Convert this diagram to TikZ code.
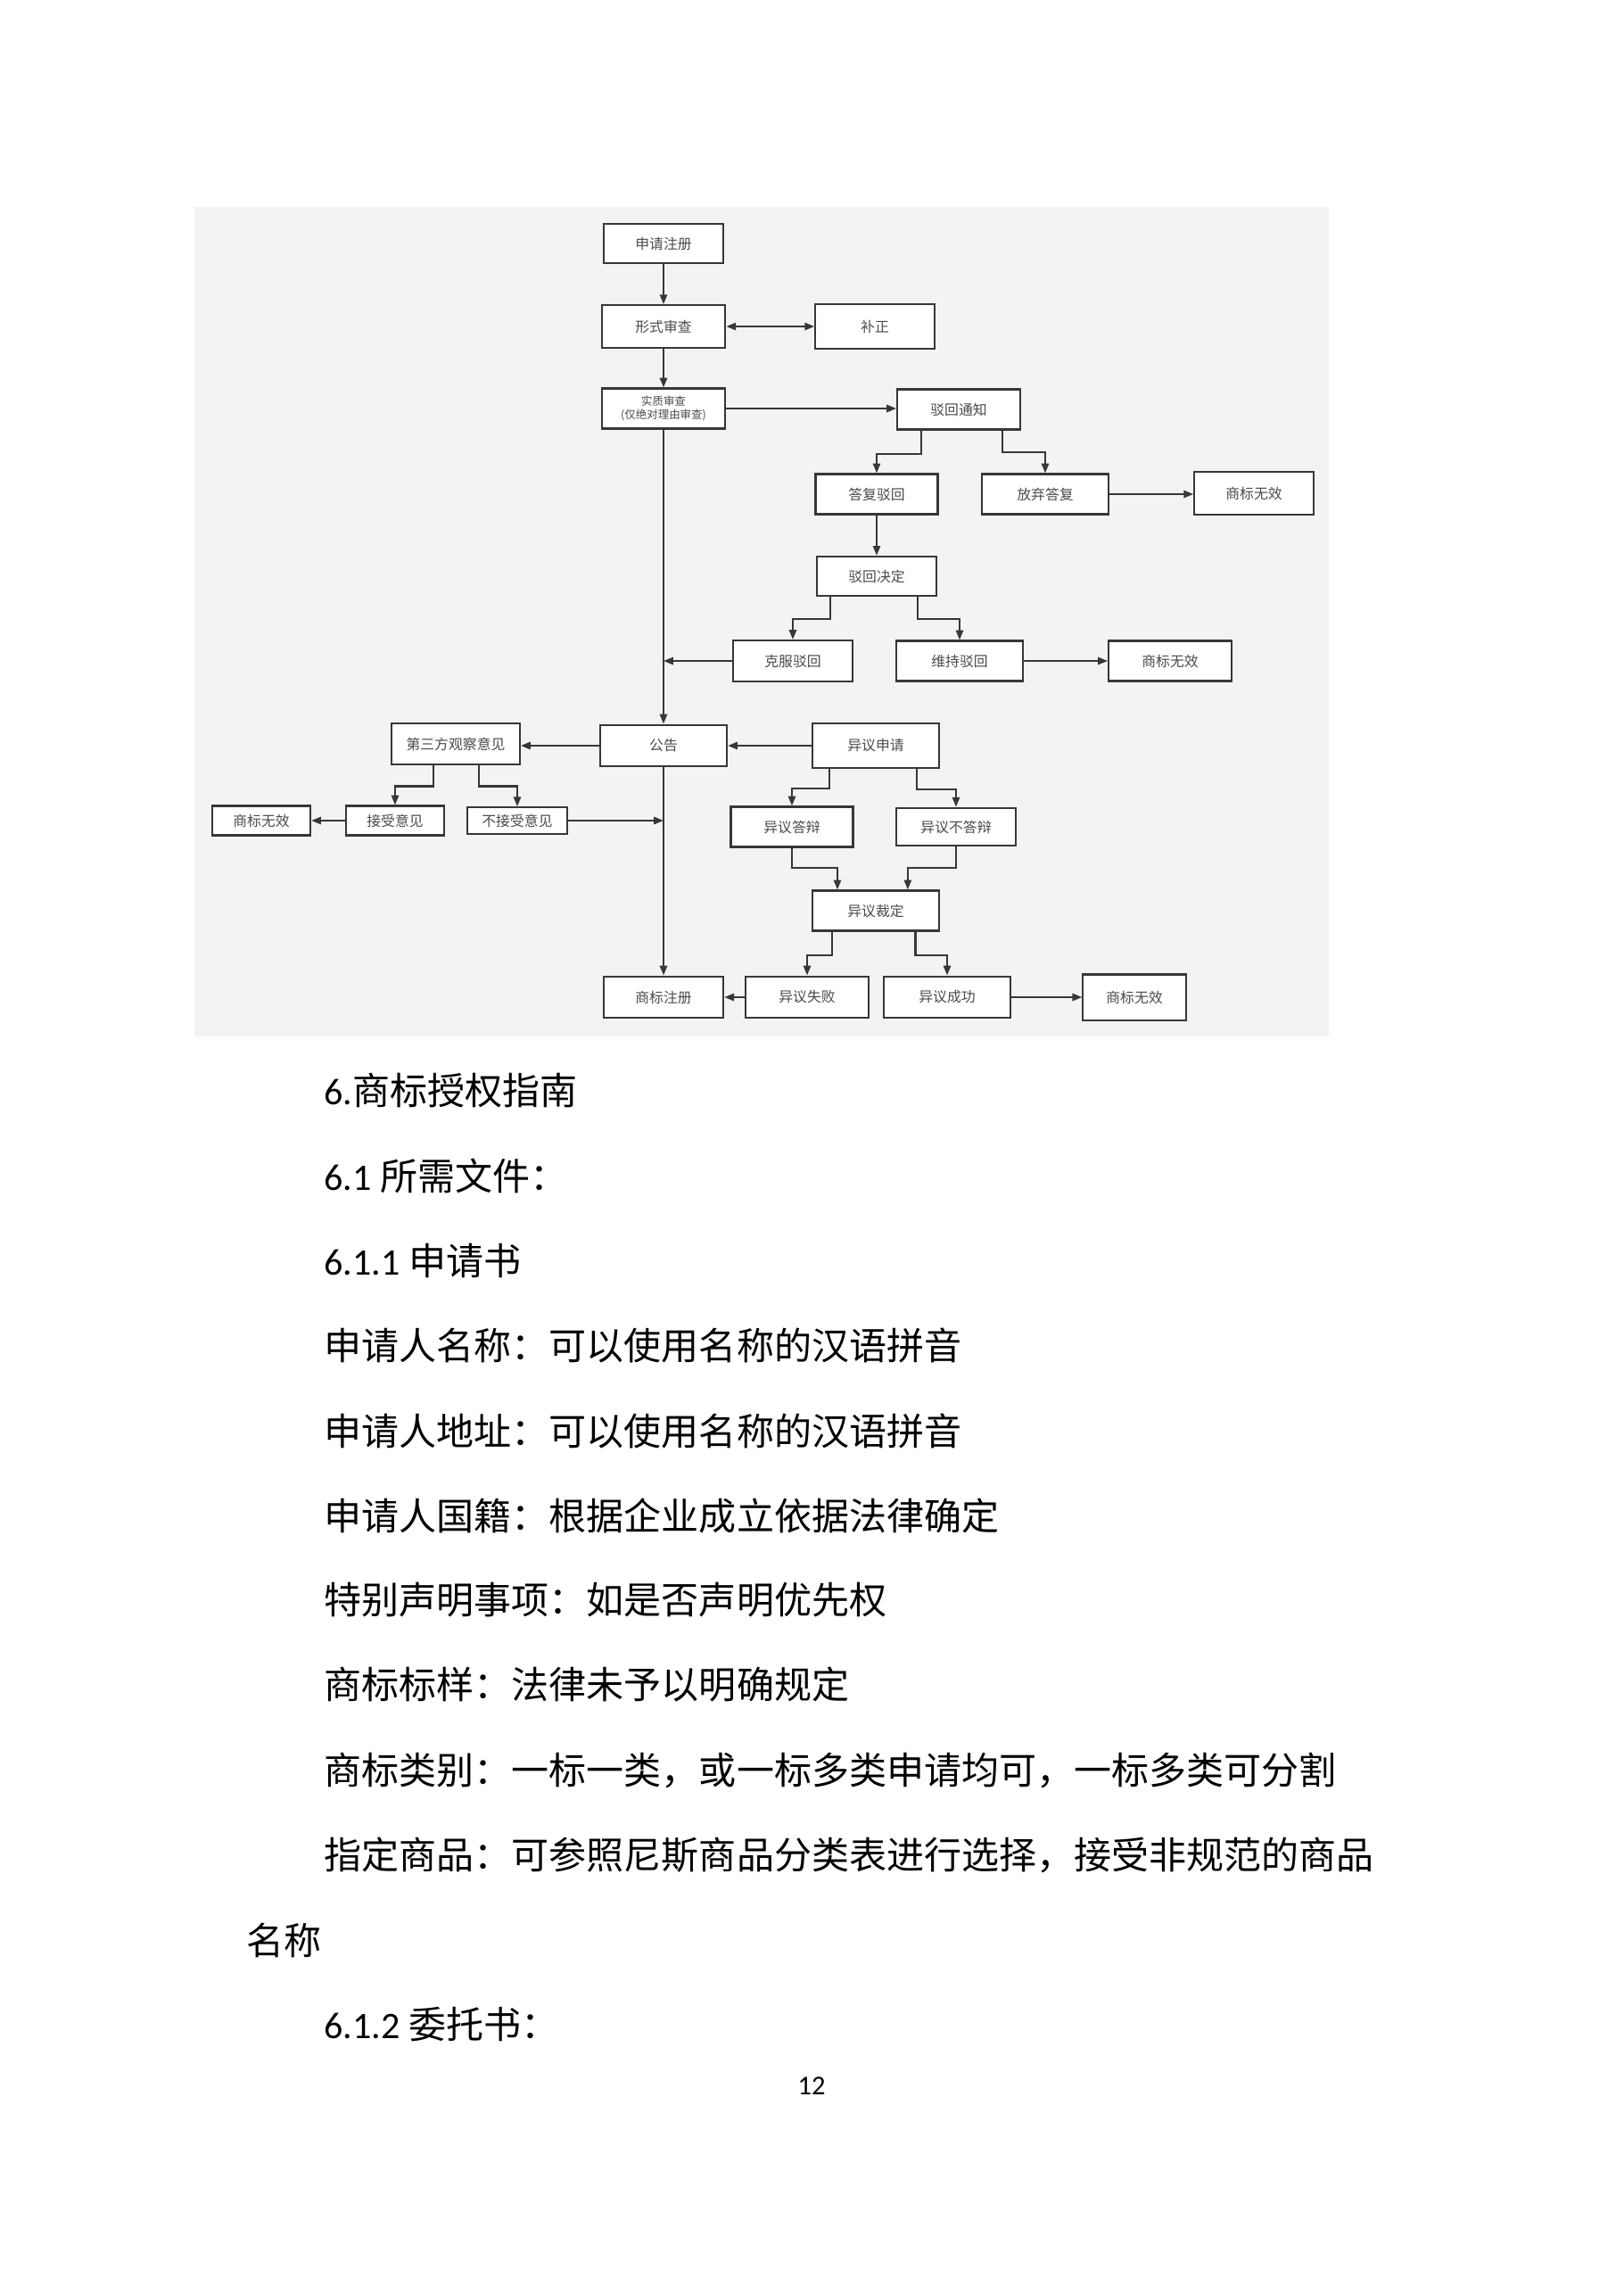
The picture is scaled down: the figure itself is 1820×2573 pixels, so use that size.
\documentclass[tikz,border=0pt]{standalone}
\usepackage{fontspec}
\setmainfont{Carlito}
\newfontfamily\cjk{Noto Sans CJK SC}
\usepackage{tikz}
\usetikzlibrary{arrows.meta, positioning, calc}
\definecolor{bggray}{RGB}{243,243,243}
\definecolor{edgegray}{RGB}{55,55,55}
\definecolor{txtgray}{RGB}{75,75,75}

\begin{document}
\begin{tikzpicture}[x=0.11538mm, y=-0.11538mm,
  blk/.style={draw=edgegray, line width=0.7pt, fill=white, minimum width=1.6cm,
              minimum height=0.52cm, inner sep=1pt, align=center, text=txtgray,
              font=\cjk\fontsize{5.2}{6.2}\selectfont},
  sblk/.style={blk, minimum width=1.27cm, minimum height=0.38cm},
  ln/.style={draw=edgegray, line width=0.7pt, -{Triangle[length=1.25mm, width=0.95mm]}},
  ln2/.style={ln, {Triangle[length=1.25mm, width=0.95mm]}-{Triangle[length=1.25mm, width=0.95mm]}},
  para/.style={anchor=west, inner sep=0pt, font=\fontsize{13.8}{16}\selectfont}]
  \useasboundingbox (0,0) rectangle (1820,2573);
  \fill[bggray] (218,232) rectangle (1490,1162);

  % main column
  \node[blk, minimum width=1.55cm, minimum height=0.5cm] (sqzc) at (744,273) {申请注册};
  \node[blk, minimum height=0.55cm] (xssc) at (744,366) {形式审查};
  \node[blk, minimum width=1.54cm, minimum height=0.57cm] (bz) at (981,366) {补正};
  \node[blk, font=\cjk\fontsize{4.1}{5.2}\selectfont] (szsc) at (744,458) {实质审查\\(仅绝对理由审查)};
  \node[blk, minimum width=1.64cm, minimum height=0.54cm] (gg) at (744,836) {公告};
  \node[blk, minimum width=1.55cm, minimum height=0.54cm] (sbzc) at (744,1118) {商标注册};

  % refusal branch
  \node[blk, minimum width=1.59cm] (bhtz) at (1075,459) {驳回通知};
  \node[blk, minimum width=1.58cm] (dfbh) at (983,554) {答复驳回};
  \node[blk, minimum width=1.63cm] (fqdf) at (1172,554) {放弃答复};
  \node[blk, minimum width=1.54cm, minimum height=0.55cm] (wx1) at (1406,553) {商标无效};
  \node[blk, minimum width=1.55cm, minimum height=0.51cm] (bhjd) at (983,646) {驳回决定};
  \node[blk, minimum width=1.55cm, minimum height=0.53cm] (kfbh) at (889,741) {克服驳回};
  \node[blk, minimum width=1.64cm] (wcbh) at (1076,741) {维持驳回};
  \node[blk, minimum width=1.59cm] (wx2) at (1312,741) {商标无效};

  % observation branch
  \node[blk, minimum width=1.66cm, minimum height=0.54cm] (dsf) at (511,834) {第三方观察意见};
  \node[sblk] (wx3) at (293,920) {商标无效};
  \node[sblk] (jsyj) at (443,920) {接受意见};
  \node[sblk, minimum width=1.3cm, minimum height=0.34cm] (bjsyj) at (580,920) {不接受意见};

  % opposition branch
  \node[blk, minimum width=1.63cm, minimum height=0.58cm] (yysq) at (982,836) {异议申请};
  \node[blk, minimum width=1.58cm] (yydb) at (888,927) {异议答辩};
  \node[blk, minimum width=1.55cm, minimum height=0.49cm] (yybdb) at (1072,927) {异议不答辩};
  \node[blk, minimum width=1.63cm] (yycd) at (982,1021) {异议裁定};
  \node[blk, minimum width=1.6cm, minimum height=0.54cm] (yysb) at (905,1118) {异议失败};
  \node[blk, minimum width=1.63cm, minimum height=0.54cm] (yycg) at (1062,1118) {异议成功};
  \node[blk, minimum width=1.33cm, minimum height=0.59cm] (wx4) at (1272,1118) {商标无效};

  % connectors
  \draw[ln] (sqzc) -- (xssc);
  \draw[ln2] (xssc.east) -- (bz.west);
  \draw[ln] (xssc) -- (szsc);
  \draw[ln] (szsc.east) -- (szsc.east -| bhtz.west);
  \draw[ln] ($(bhtz.south west)!0.2!(bhtz.south east)$) -- ++(0,26) -| (dfbh.north);
  \draw[ln] ($(bhtz.south west)!0.85!(bhtz.south east)$) -- ++(0,24) -| (fqdf.north);
  \draw[ln] (fqdf.east) -- (fqdf.east -| wx1.west);
  \draw[ln] (dfbh) -- (bhjd);
  \draw[ln] ($(bhjd.south west)!0.12!(bhjd.south east)$) -- ++(0,25) -| (kfbh.north);
  \draw[ln] ($(bhjd.south west)!0.84!(bhjd.south east)$) -- ++(0,25) -| (wcbh.north);
  \draw[ln] (wcbh) -- (wx2);
  \draw[ln] (kfbh.west) -- (kfbh.west -| szsc.south);
  \draw[ln] (szsc) -- (gg);
  \draw[ln] (gg.west) -- (gg.west -| dsf.east);
  \draw[ln] (yysq) -- (gg);
  \draw[ln] ($(dsf.south west)!0.33!(dsf.south east)$) -- ++(0,23) -| (jsyj.north);
  \draw[ln] ($(dsf.south west)!0.68!(dsf.south east)$) -- ++(0,23) -| (bjsyj.north);
  \draw[ln] (jsyj) -- (wx3);
  \draw[ln] (bjsyj.east) -- (bjsyj.east -| gg.south);
  \draw[ln] (gg) -- (sbzc);
  \draw[ln] ($(yysq.south west)!0.14!(yysq.south east)$) -- ++(0,22) -| (yydb.north);
  \draw[ln] ($(yysq.south west)!0.82!(yysq.south east)$) -- ++(0,23) -| (yybdb.north);
  \draw[ln] (yydb.south) -- ++(0,22) -| ($(yycd.north west)!0.2!(yycd.north east)$);
  \draw[ln] (yybdb.south) -- ++(0,24) -| ($(yycd.north west)!0.75!(yycd.north east)$);
  \draw[ln] ($(yycd.south west)!0.16!(yycd.south east)$) -- ++(0,26) -| (yysb.north);
  \draw[ln] ($(yycd.south west)!0.81!(yycd.south east)$) -- ++(0,26) -| (yycg.north);
  \draw[ln] (yysb) -- (sbzc);
  \draw[ln] (yycg) -- (wx4);

  % body text
  \node[para] (t1) at (363,1223) {6.{\cjk 商标授权指南}};
  \node[para] (t2) at (363,1318) {6.1 {\cjk 所需文件：}};
  \node[para] (t3) at (363,1413) {6.1.1 {\cjk 申请书}};
  \node[para] (t4) at (363,1508) {\cjk 申请人名称：可以使用名称的汉语拼音};
  \node[para] (t5) at (363,1604) {\cjk 申请人地址：可以使用名称的汉语拼音};
  \node[para] (t6) at (363,1699) {\cjk 申请人国籍：根据企业成立依据法律确定};
  \node[para] (t7) at (363,1794) {\cjk 特别声明事项：如是否声明优先权};
  \node[para] (t8) at (363,1889) {\cjk 商标标样：法律未予以明确规定};
  \node[para] (t9) at (363,1985) {\cjk 商标类别：一标一类，或一标多类申请均可，一标多类可分割};
  \node[para] (t10) at (363,2080) {\cjk 指定商品：可参照尼斯商品分类表进行选择，接受非规范的商品};
  \node[para] (t11) at (276,2175) {\cjk 名称};
  \node[para] (t12) at (363,2270) {6.1.2 {\cjk 委托书：}};
  \node[font=\fontsize{10}{12}\selectfont, inner sep=0pt] (pg) at (910,2339) {12};
\end{tikzpicture}
\end{document}
